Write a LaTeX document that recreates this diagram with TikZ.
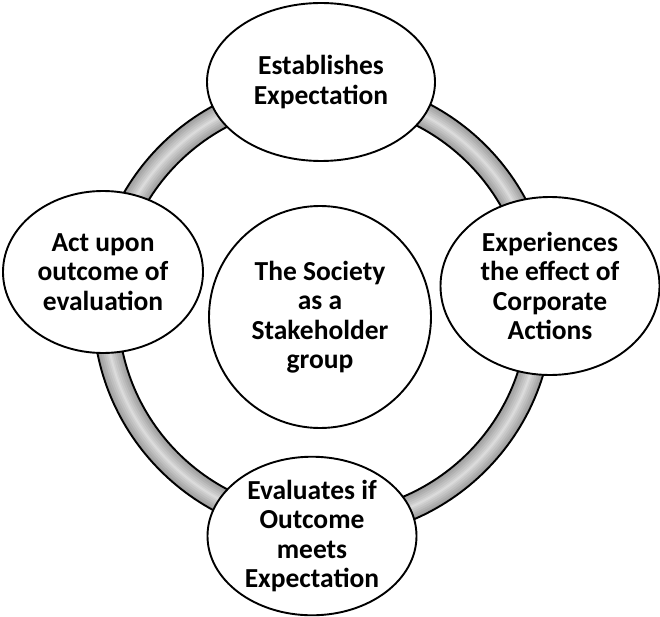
\documentclass[tikz,border=0pt]{standalone}
\usepackage{fontspec}
\setmainfont{Carlito}
\usetikzlibrary{shapes.geometric,positioning}

\begin{document}
\begin{tikzpicture}[x=1pt, y=-1pt, line width=1.9pt,
        stage/.style={draw, ellipse, fill=white, inner sep=0pt, align=center,
                      font=\fontsize{27.5}{29.5}\selectfont\bfseries}]
                \useasboundingbox (0,0) rectangle (660,617);

                % Ring, shaded from the edges to the middle
                \coordinate (hub) at (323,308);
                \foreach \w/\c in {25/38, 21/34, 17/30, 13/26, 9/22, 5/18, 2/14}
                    \draw[black!\c, line width=\w pt] (hub) circle (217.5);
                \draw (hub) circle (230);
                \draw (hub) circle (205);

                % Centre
                \node (society) [stage, circle, minimum size=222pt] at (320,317) {The Society\\as a\\Stakeholder\\group};

                % Stages
                \node (establish) [stage, minimum width=228pt, minimum height=158pt] at (321,82) {Establishes\\Expectation};
                \node (experience) [stage, minimum width=219pt, minimum height=178pt] at (550,286) {Experiences\\the effect of\\Corporate\\Actions};
                \node (evaluate) [stage, minimum width=209pt, minimum height=157pt] at (312,536) {Evaluates if\\Outcome\\meets\\Expectation};
                \node (act) [stage, minimum width=200pt, minimum height=162pt] at (103,272) {Act upon\\outcome of\\evaluation};
            \end{tikzpicture}
\end{document}
